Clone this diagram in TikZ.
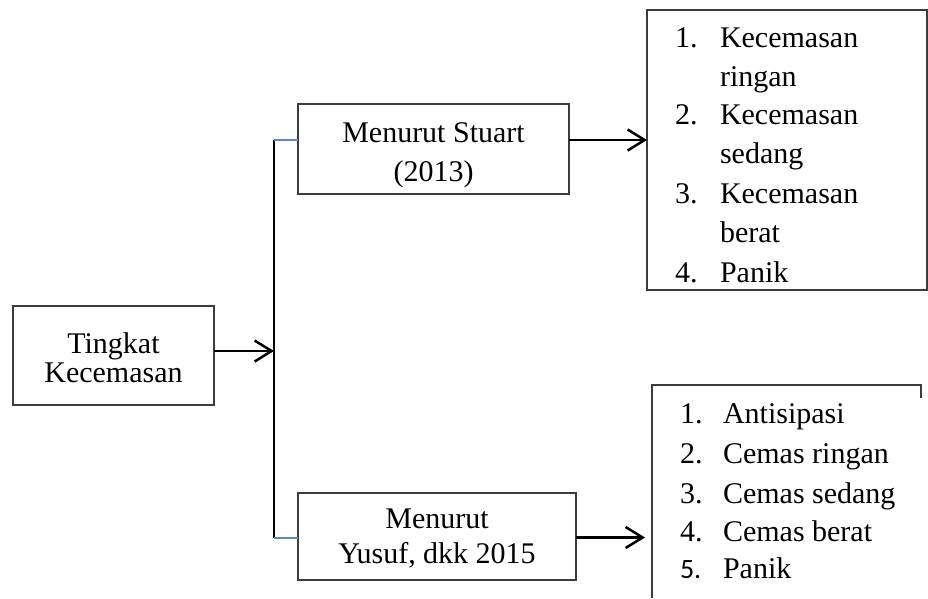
\documentclass[tikz,border=0pt]{standalone}
\usepackage{fontspec}
\setmainfont{Liberation Serif}
\newfontfamily\calibfont{Carlito}
\usetikzlibrary{arrows.meta}
\definecolor{linkblue}{RGB}{91,137,197}
\definecolor{boxline}{RGB}{60,60,60}
\begin{document}
\begin{tikzpicture}[x=1pt,y=-1pt,
  box/.style={draw=boxline, line width=1.6pt, inner sep=0pt, outer sep=0pt},
  lbl/.style={inner sep=0pt, outer sep=0pt, anchor=base, font=\fontsize{30}{36}\selectfont},
  item/.style={inner sep=0pt, outer sep=0pt, anchor=base west, font=\fontsize{30}{36}\selectfont},
  spine/.style={line width=2.2pt, black},
  arr/.style={line width=2.5pt, black, -{Straight Barb[length=17pt,width=21pt]}},
  bluelink/.style={line width=2pt, draw=linkblue}]
\useasboundingbox (0,0) rectangle (928,598);

% boxes
\node[box, minimum width=201pt, minimum height=99pt] (tk) at (113.5,355.5) {};
\node[box, minimum width=271pt, minimum height=90pt] (ms) at (433.5,149) {};
\node[box, minimum width=278pt, minimum height=87pt] (my) at (437,536.5) {};
\node[box, minimum width=280pt, minimum height=280pt] (lr1) at (787,150) {};
\coordinate (b2bl) at (652,598);
\coordinate (b2tl) at (652,385);
\coordinate (b2tr) at (921,385);
\coordinate (b2rr) at (921,398);
\draw[draw=boxline, line width=1.6pt] (b2bl) -- (b2tl) -- (b2tr) -- (b2rr);

% box labels
\node[lbl] (tk1) at (113.5,353) {Tingkat};
\node[lbl] (tk2) at (113.5,382) {Kecemasan};
\node[lbl] (ms1) at (433.5,142) {Menurut Stuart};
\node[lbl] (ms2) at (433.5,181) {(2013)};
\node[lbl] (my1) at (437,528) {Menurut};
\node[lbl] (my2) at (437,563) {Yusuf, dkk 2015};

% top list
\node[item] (n1) at (675,47) {1.};
\node[item] (t1) at (720,47) {Kecemasan};
\node[item] (t1b) at (720,86) {ringan};
\node[item] (n2) at (675,124) {2.};
\node[item] (t2) at (720,124) {Kecemasan};
\node[item] (t2b) at (720,163) {sedang};
\node[item] (n3) at (675,203) {3.};
\node[item] (t3) at (720,203) {Kecemasan};
\node[item] (t3b) at (720,242) {berat};
\node[item] (n4) at (675,282) {4.};
\node[item] (t4) at (720,282) {Panik};

% bottom list
\node[item] (m1) at (680,423) {1.};
\node[item] (u1) at (723,423) {Antisipasi};
\node[item] (m2) at (680,463) {2.};
\node[item] (u2) at (723,463) {Cemas ringan};
\node[item] (m3) at (680,503) {3.};
\node[item] (u3) at (723,503) {Cemas sedang};
\node[item] (m4) at (680,541) {4.};
\node[item] (u4) at (723,541) {Cemas berat};
\node[item, font=\fontsize{28}{34}\calibfont] (m5) at (680,578) {5.};
\node[item] (u5) at (723,578) {Panik};

% connectors
\coordinate (sTop) at (274,140);
\coordinate (sMid) at (274,351);
\coordinate (sBot) at (274,537.5);
\coordinate (tip2) at (645,537.5);
\draw[spine] (sTop) -- (sBot);
\draw[bluelink] (sTop) -- (ms.west |- sTop);
\draw[bluelink] (sBot) -- (my.west |- sBot);
\draw[arr] (tk.east |- sMid) -- (sMid);
\draw[arr] (ms.east |- sTop) -- (lr1.west |- sTop);
\draw[arr] (my.east |- tip2) -- (tip2);
\end{tikzpicture}
\end{document}
